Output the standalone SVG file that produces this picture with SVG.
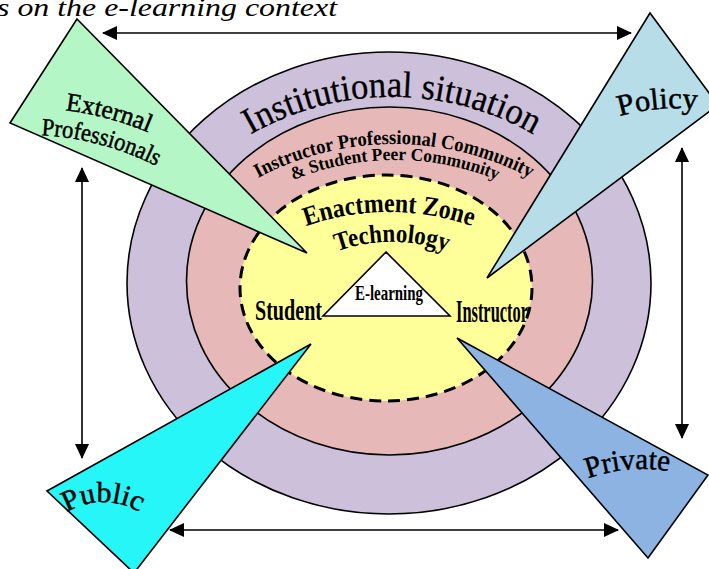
<svg xmlns="http://www.w3.org/2000/svg" width="709" height="569" viewBox="0 0 709 569">
<style>
.ring{stroke:#000;stroke-width:1.6}
.wedge{stroke:#000;stroke-width:1.6;stroke-linejoin:miter}
.t{font-family:"Liberation Serif","Times New Roman",serif;fill:#000}
.w{stroke:#000;stroke-width:0.5}
.b{font-weight:bold}
.arr{stroke:#000;stroke-width:1.6;fill:none;marker-start:url(#ah);marker-end:url(#ah)}
</style>
<defs>
<marker id="ah" markerUnits="userSpaceOnUse" markerWidth="16" markerHeight="14" refX="14" refY="7" orient="auto-start-reverse">
<path d="M0,0 L15,7 L0,14 z" fill="#000"/>
</marker>
<path id="p-inst" d="M209.4,163.4 A284,284 0 0 1 574.6,163.4"/>
<path id="p-ipc" d="M208.2,211.6 A289,289 0 0 1 579.8,211.6"/>
<path id="p-spc" d="M221.4,223.2 A270,270 0 0 1 568.6,223.2"/>
<path id="p-ez" d="M226.4,271.2 A253,253 0 0 1 551.6,271.2"/>
<path id="p-tech" d="M285.3,280.8 A166,166 0 0 1 498.7,280.8"/>
<path id="p-ext" d="M-104.4,137.1 A311,311 0 0 1 281.8,240.6"/>
<path id="p-prof" d="M-93,161.6 A284,284 0 0 1 259.7,256.1"/>
<path id="p-policy" d="M534,166.8 A200,200 0 0 1 790.1,144.4"/>
<path id="p-public" d="M42.4,537 A70,70 0 0 1 163.6,537"/>
<path id="p-private" d="M528.9,515.9 A160,160 0 0 1 733.8,497.9"/>
</defs>

<text class="t" x="-3" y="16" font-size="26" font-style="italic" textLength="340" lengthAdjust="spacingAndGlyphs">s on the e-learning context</text>

<g id="institutional-situation">
<ellipse class="ring" cx="389" cy="283" rx="262" ry="231" fill="#CCC0DA"/>
</g>
<g id="community">
<ellipse class="ring" cx="389.5" cy="281" rx="203" ry="174" fill="#E6B9B8"/>
</g>
<g id="enactment-zone">
<ellipse cx="386" cy="288" rx="146" ry="113" fill="#FFFF99" stroke="#000" stroke-width="3" stroke-dasharray="12 7"/>
</g>
<g id="e-learning">
<polygon points="386,252 323,316 450,316" fill="#fff" stroke="#000" stroke-width="1.6"/>
<text class="t b" x="389" y="300" font-size="22" text-anchor="middle" textLength="68" lengthAdjust="spacingAndGlyphs">E-learning</text>
</g>

<g id="external-professionals">
<polygon class="wedge" points="77,19 10,123 307,253" fill="#B4F6C6"/>
<text class="t w" font-size="26"><textPath href="#p-ext" startOffset="50%" text-anchor="middle" textLength="86" lengthAdjust="spacingAndGlyphs">External</textPath></text>
<text class="t w" font-size="25"><textPath href="#p-prof" startOffset="50%" text-anchor="middle" textLength="120" lengthAdjust="spacingAndGlyphs">Professionals</textPath></text>
</g>
<g id="policy">
<polygon class="wedge" points="650,13 718,105 487,278" fill="#B7DDE8"/>
<text class="t w" font-size="30"><textPath href="#p-policy" startOffset="50%" text-anchor="middle" textLength="78" lengthAdjust="spacingAndGlyphs">Policy</textPath></text>
</g>
<g id="public">
<polygon class="wedge" points="311,344 47,491 134,573" fill="#26F6F8"/>
<text class="t w" font-size="29"><textPath href="#p-public" startOffset="50%" text-anchor="middle" textLength="76" lengthAdjust="spacingAndGlyphs">Public</textPath></text>
</g>
<g id="private">
<polygon class="wedge" points="457,338 708,475 648,558" fill="#8DB3E2"/>
<text class="t w" font-size="30"><textPath href="#p-private" startOffset="50%" text-anchor="middle" textLength="82" lengthAdjust="spacingAndGlyphs">Private</textPath></text>
</g>

<g id="labels">
<text class="t" font-size="37" stroke="#000" stroke-width="0.3"><textPath href="#p-inst" startOffset="50%" text-anchor="middle" textLength="296" lengthAdjust="spacingAndGlyphs">Institutional situation</textPath></text>
<text class="t b" font-size="20"><textPath href="#p-ipc" startOffset="50%" text-anchor="middle" textLength="283" lengthAdjust="spacingAndGlyphs">Instructor Professional Community</textPath></text>
<text class="t b" font-size="18"><textPath href="#p-spc" startOffset="50%" text-anchor="middle" textLength="209" lengthAdjust="spacingAndGlyphs">&amp; Student Peer Community</textPath></text>
<text class="t b" font-size="27"><textPath href="#p-ez" startOffset="50%" text-anchor="middle" textLength="169" lengthAdjust="spacingAndGlyphs">Enactment Zone</textPath></text>
<text class="t b" font-size="26"><textPath href="#p-tech" startOffset="50%" text-anchor="middle" textLength="112" lengthAdjust="spacingAndGlyphs">Technology</textPath></text>
<text class="t b" x="255" y="320" font-size="30" textLength="67" lengthAdjust="spacingAndGlyphs">Student</text>
<text class="t b" x="456" y="322" font-size="31" textLength="72" lengthAdjust="spacingAndGlyphs">Instructor</text>
</g>

<g id="connectors">
<line class="arr" x1="103" y1="33" x2="631" y2="33"/>
<line class="arr" x1="82" y1="168" x2="82" y2="458"/>
<line class="arr" x1="682" y1="148" x2="682" y2="438"/>
<line class="arr" x1="170" y1="530" x2="618" y2="530"/>
</g>
</svg>
